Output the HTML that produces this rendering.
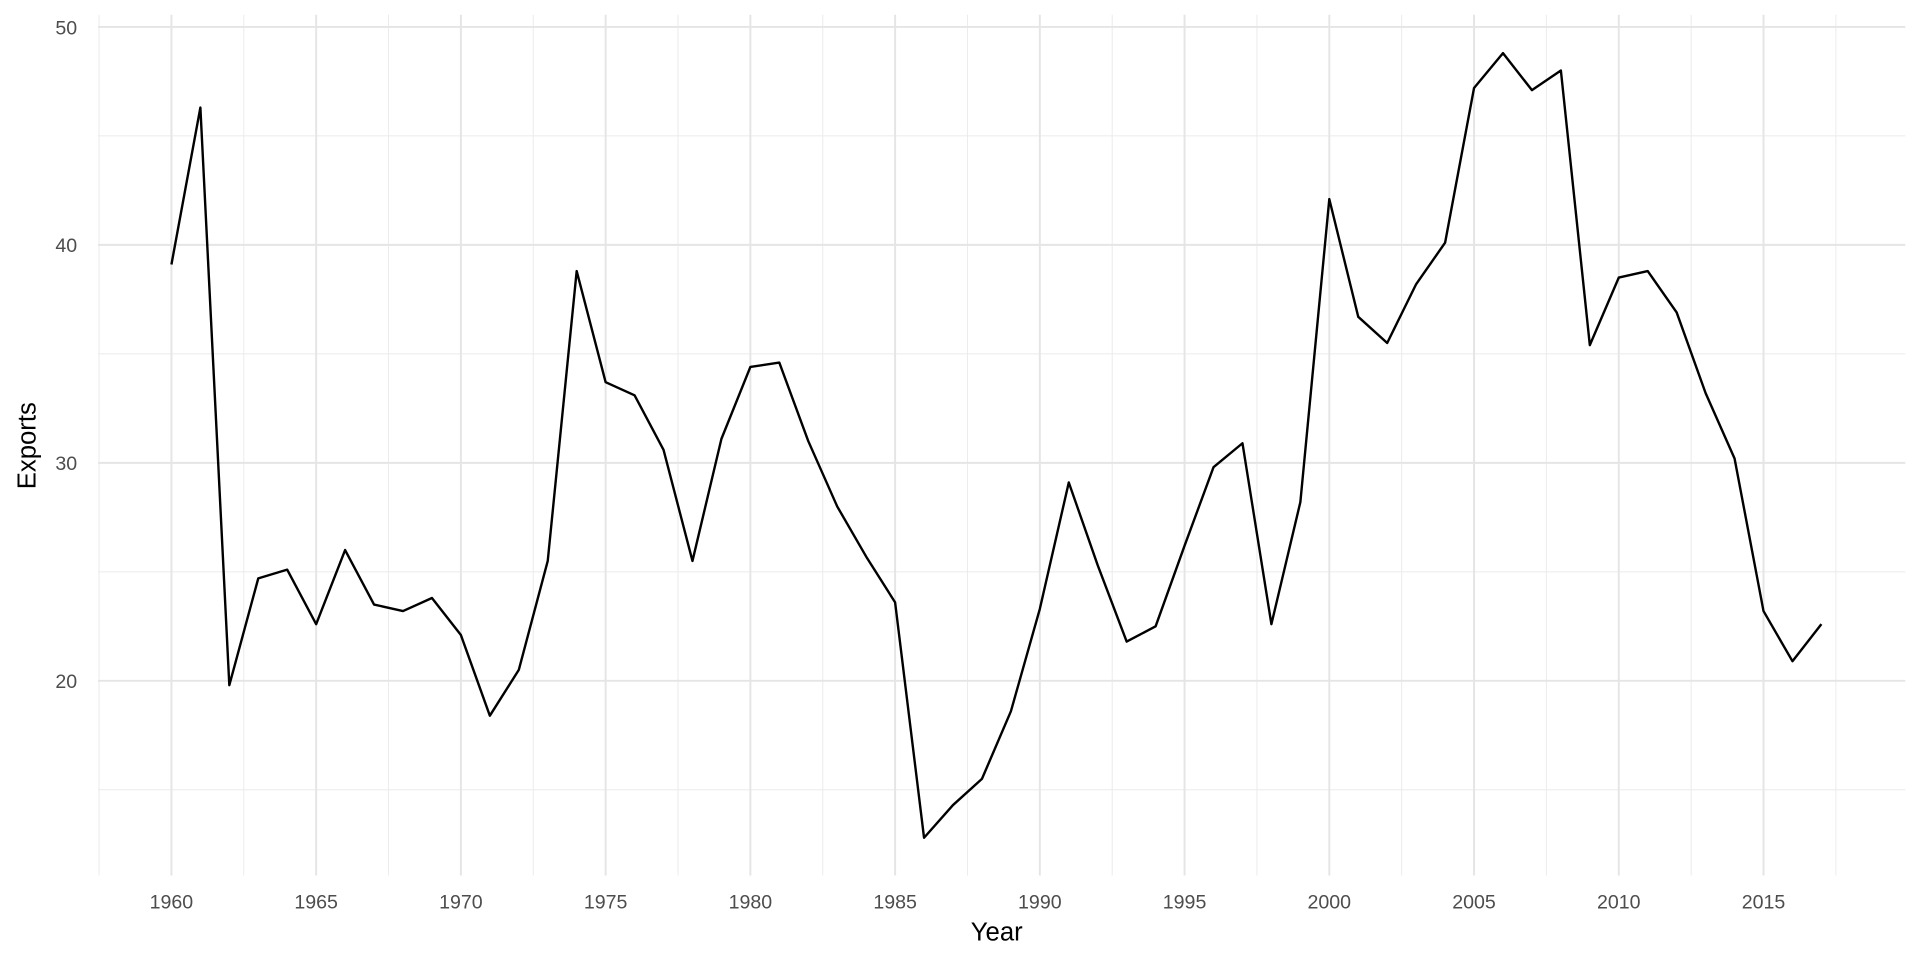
<!DOCTYPE html>
<html><head><meta charset="utf-8"><style>html,body{margin:0;padding:0;background:#fff;}svg{display:block}</style></head>
<body>
<svg width="1920" height="960" viewBox="0 0 1568 784" xmlns="http://www.w3.org/2000/svg" font-family="Liberation Sans, sans-serif">
<rect width="1568" height="784" fill="#fff"/>
<g stroke="#ebebeb" stroke-width="0.8">
<line x1="80" x2="1556" y1="111" y2="111"/><line x1="80" x2="1556" y1="289" y2="289"/><line x1="80" x2="1556" y1="467" y2="467"/><line x1="80" x2="1556" y1="645" y2="645"/>
<line y1="12" y2="715" x1="80.9" x2="80.9"/><line y1="12" y2="715" x1="199.1" x2="199.1"/><line y1="12" y2="715" x1="317.3" x2="317.3"/><line y1="12" y2="715" x1="435.5" x2="435.5"/><line y1="12" y2="715" x1="553.7" x2="553.7"/><line y1="12" y2="715" x1="671.9" x2="671.9"/><line y1="12" y2="715" x1="790.1" x2="790.1"/><line y1="12" y2="715" x1="908.3" x2="908.3"/><line y1="12" y2="715" x1="1026.5" x2="1026.5"/><line y1="12" y2="715" x1="1144.7" x2="1144.7"/><line y1="12" y2="715" x1="1262.9" x2="1262.9"/><line y1="12" y2="715" x1="1381.1" x2="1381.1"/><line y1="12" y2="715" x1="1499.3" x2="1499.3"/>
</g>
<g stroke="#e5e5e5" stroke-width="1.6">
<line x1="80" x2="1556" y1="22" y2="22"/><line x1="80" x2="1556" y1="200" y2="200"/><line x1="80" x2="1556" y1="378" y2="378"/><line x1="80" x2="1556" y1="556" y2="556"/>
<line y1="12" y2="715" x1="140" x2="140"/><line y1="12" y2="715" x1="258.2" x2="258.2"/><line y1="12" y2="715" x1="376.4" x2="376.4"/><line y1="12" y2="715" x1="494.6" x2="494.6"/><line y1="12" y2="715" x1="612.8" x2="612.8"/><line y1="12" y2="715" x1="731" x2="731"/><line y1="12" y2="715" x1="849.2" x2="849.2"/><line y1="12" y2="715" x1="967.4" x2="967.4"/><line y1="12" y2="715" x1="1085.6" x2="1085.6"/><line y1="12" y2="715" x1="1203.8" x2="1203.8"/><line y1="12" y2="715" x1="1322" x2="1322"/><line y1="12" y2="715" x1="1440.2" x2="1440.2"/>
</g>
<polyline fill="none" stroke="#000" stroke-width="2.4" vector-effect="non-scaling-stroke" stroke-linejoin="round" transform="matrix(23.64,0,0,-17.8,140,912)" points="0,39.1 1,46.3 2,19.8 3,24.7 4,25.1 5,22.6 6,26.0 7,23.5 8,23.2 9,23.8 10,22.1 11,18.4 12,20.5 13,25.5 14,38.8 15,33.7 16,33.1 17,30.6 18,25.5 19,31.1 20,34.4 21,34.6 22,31.0 23,28.0 24,25.7 25,23.6 26,12.8 27,14.3 28,15.5 29,18.6 30,23.3 31,29.1 32,25.3 33,21.8 34,22.5 35,26.2 36,29.8 37,30.9 38,22.6 39,28.2 40,42.1 41,36.7 42,35.5 43,38.2 44,40.1 45,47.2 46,48.8 47,47.1 48,48.0 49,35.4 50,38.5 51,38.8 52,36.9 53,33.2 54,30.2 55,23.2 56,20.9 57,22.6"/>
<g fill="#4d4d4d" font-size="16" text-anchor="end">
<text x="63" y="28">50</text><text x="63" y="206">40</text><text x="63" y="384">30</text><text x="63" y="562">20</text>
</g>
<g fill="#4d4d4d" font-size="16" text-anchor="middle">
<text x="140" y="742">1960</text><text x="258.2" y="742">1965</text><text x="376.4" y="742">1970</text><text x="494.6" y="742">1975</text><text x="612.8" y="742">1980</text><text x="731" y="742">1985</text><text x="849.2" y="742">1990</text><text x="967.4" y="742">1995</text><text x="1085.6" y="742">2000</text><text x="1203.8" y="742">2005</text><text x="1322" y="742">2010</text><text x="1440.2" y="742">2015</text>
</g>
<text x="814" y="768" font-size="21" text-anchor="middle" fill="#000">Year</text>
<text transform="translate(29,364) rotate(-90)" font-size="21" text-anchor="middle" fill="#000">Exports</text>
</svg>
</body></html>
